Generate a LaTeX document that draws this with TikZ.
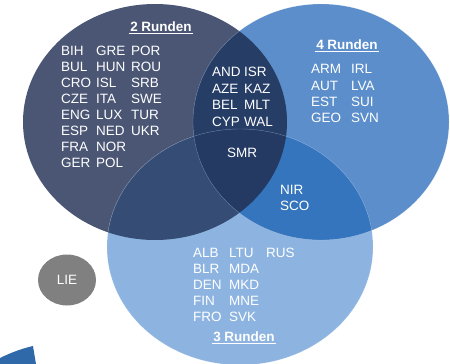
\documentclass[tikz,border=0pt]{standalone}
\usepackage{fontspec}
\setmainfont{Liberation Sans}
\usetikzlibrary{positioning}
\definecolor{zwei}{HTML}{4A5674}
\definecolor{vier}{HTML}{5B8ECA}
\definecolor{drei}{HTML}{8DB4E0}
\definecolor{zweivier}{HTML}{263D66}
\definecolor{zweidrei}{HTML}{354D74}
\definecolor{vierdrei}{HTML}{3575BD}
\definecolor{alle}{HTML}{243A62}
\definecolor{grau}{HTML}{808080}

\begin{document}
\begin{tikzpicture}[x=1pt,y=-1pt,
    cty/.style={text=white,anchor=west,inner sep=0pt,text height=9.7pt,text depth=0pt,font=\fontsize{13.5}{16}\selectfont},
    ttl/.style={text=white,inner sep=1.5pt,font=\bfseries\fontsize{13.5}{16}\selectfont}]
    \useasboundingbox (0,0) rectangle (450,364);
    % circles
    \fill[zwei] (155,122) ellipse [x radius=132pt, y radius=118pt];
    \fill[vier] (321,122) ellipse [x radius=128pt, y radius=118pt];
    \fill[drei] (240,247) ellipse [x radius=133pt, y radius=118pt];
    \begin{scope}
        \clip (155,122) ellipse [x radius=132pt, y radius=118pt];
        \fill[zweivier] (321,122) ellipse [x radius=128pt, y radius=118pt];
        \fill[zweidrei] (240,247) ellipse [x radius=133pt, y radius=118pt];
        \clip (321,122) ellipse [x radius=128pt, y radius=118pt];
        \fill[alle] (240,247) ellipse [x radius=133pt, y radius=118pt];
    \end{scope}
    \begin{scope}
        \clip (321,122) ellipse [x radius=128pt, y radius=118pt];
        \fill[vierdrei] (240,247) ellipse [x radius=133pt, y radius=118pt];
        \clip (155,122) ellipse [x radius=132pt, y radius=118pt];
        \fill[alle] (240,247) ellipse [x radius=133pt, y radius=118pt];
    \end{scope}
    \draw[white,opacity=.3,line width=.4pt] (321,122) ellipse [x radius=128pt, y radius=118pt];
    \draw[white,opacity=.3,line width=.4pt] (240,247) ellipse [x radius=133pt, y radius=118pt];
    \fill[grau] (67,280) ellipse [x radius=29pt, y radius=25.5pt];
    \fill[vierdrei!90!black] (0,358) .. controls (12,352) and (24,348) .. (33,346) -- (36,364) -- (0,364) -- cycle;

    % titles
    \node[ttl] (t2) at (161,27) {2 Runden};
    \node[ttl] (t4) at (347,45) {4 Runden};
    \node[ttl] (t3) at (244,337) {3 Runden};
    \foreach \t in {t2,t4,t3}
        \draw[white,line width=.8pt] (\t.south west) -- (\t.south east);

    % 2 Runden
    \foreach \c [count=\i from 0] in {BIH,BUL,CRO,CZE,ENG,ESP,FRA,GER}
        \node[cty] (\c) at (61,51+16*\i) {\c};
    \foreach \c [count=\i from 0] in {GRE,HUN,ISL,ITA,LUX,NED,NOR,POL}
        \node[cty] (\c) at (96,51+16*\i) {\c};
    \foreach \c [count=\i from 0] in {POR,ROU,SRB,SWE,TUR,UKR}
        \node[cty] (\c) at (131,51+16*\i) {\c};
    % 2 und 4
    \foreach \c [count=\i from 0] in {AND,AZE,BEL,CYP}
        \node[cty] (\c) at (212,72+16.4*\i) {\c};
    \foreach \c [count=\i from 0] in {ISR,KAZ,MLT,WAL}
        \node[cty] (\c) at (244,72+16.4*\i) {\c};
    % 4 Runden
    \foreach \c [count=\i from 0] in {ARM,AUT,EST,GEO}
        \node[cty] (\c) at (311,69+16.3*\i) {\c};
    \foreach \c [count=\i from 0] in {IRL,LVA,SUI,SVN}
        \node[cty] (\c) at (351,69+16.3*\i) {\c};
    % 3 Runden
    \foreach \c [count=\i from 0] in {ALB,BLR,DEN,FIN,FRO}
        \node[cty] (\c) at (193,253+16*\i) {\c};
    \foreach \c [count=\i from 0] in {LTU,MDA,MKD,MNE,SVK}
        \node[cty] (\c) at (229,253+16*\i) {\c};
    \node[cty] (RUS) at (266,253) {RUS};
    % rest
    \node[cty,anchor=center] (SMR) at (242,153) {SMR};
    \node[cty] (NIR) at (280,190) {NIR};
    \node[cty] (SCO) at (280,206) {SCO};
    \node[cty,anchor=center] (LIE) at (67,280) {LIE};
\end{tikzpicture}
\end{document}
